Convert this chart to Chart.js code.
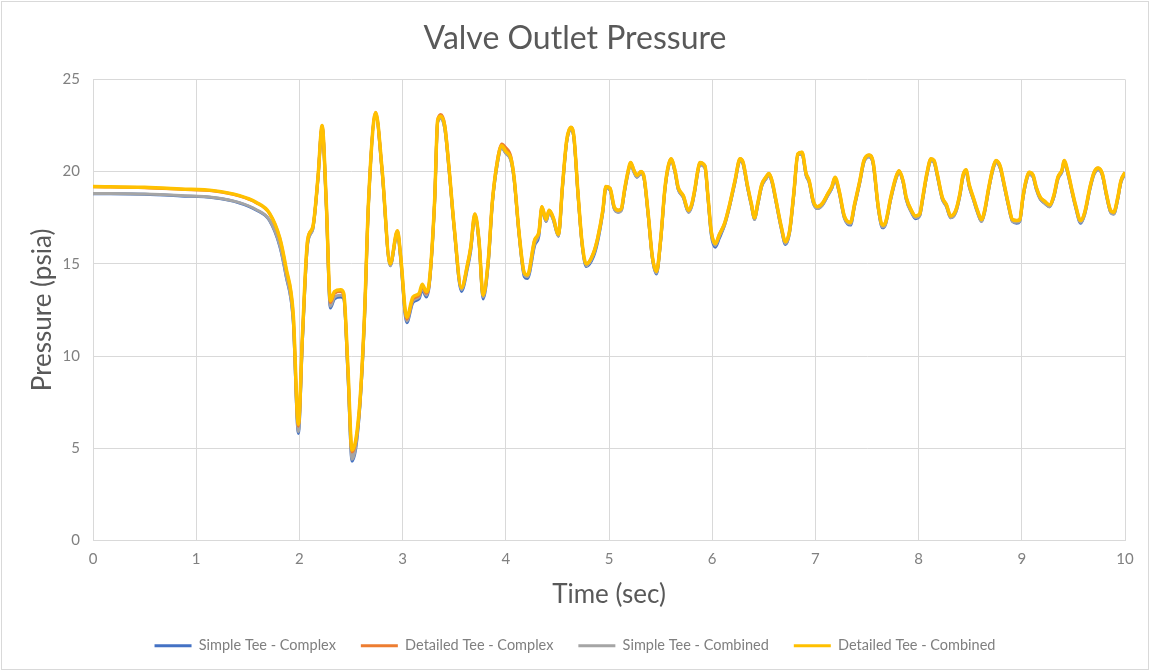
<!DOCTYPE html>
<html>
<head>
<meta charset="utf-8">
<title>Valve Outlet Pressure</title>
<script src="https://cdn.jsdelivr.net/npm/chart.js@4.4.1/dist/chart.umd.min.js"></script>
<style>
  html, body { margin: 0; padding: 0; background: #fff; }
  canvas { display: block; }
</style>
</head>
<body>
<canvas id="chart" width="1150" height="671"></canvas>
<script>
// time (sec), one row per second of the trace
const timeSec = [
  0, 0.5, 0.85, 1.17, 1.42, 1.58, 1.71, 1.81, 1.87, 1.94,
  1.99, 2.03, 2.08, 2.13, 2.18, 2.22, 2.26, 2.30, 2.34, 2.40, 2.43, 2.47, 2.51, 2.58, 2.63, 2.67, 2.74, 2.80, 2.88, 2.95, 2.98,
  3.04, 3.10, 3.16, 3.19, 3.23, 3.26, 3.31, 3.34, 3.37, 3.41, 3.45, 3.50, 3.57, 3.63, 3.66, 3.70, 3.74, 3.78, 3.83, 3.87, 3.92, 3.96,
  4.00, 4.05, 4.08, 4.13, 4.18, 4.21, 4.28, 4.32, 4.35, 4.39, 4.42, 4.46, 4.51, 4.55, 4.59, 4.63, 4.66, 4.70, 4.74, 4.78, 4.85, 4.89, 4.94, 4.97,
  5.01, 5.05, 5.09, 5.12, 5.15, 5.18, 5.21, 5.24, 5.27, 5.31, 5.34, 5.38, 5.42, 5.46, 5.50, 5.54, 5.57, 5.60, 5.64, 5.67, 5.72, 5.77, 5.80, 5.83, 5.86, 5.88, 5.93, 5.96, 5.99,
  6.03, 6.07, 6.12, 6.17, 6.22, 6.27, 6.30, 6.34, 6.38, 6.41, 6.44, 6.48, 6.52, 6.55, 6.58, 6.62, 6.67, 6.71, 6.75, 6.79, 6.83, 6.87, 6.91, 6.94, 6.98,
  7.02, 7.07, 7.12, 7.16, 7.19, 7.23, 7.28, 7.34, 7.38, 7.43, 7.47, 7.52, 7.56, 7.61, 7.65, 7.68, 7.73, 7.78, 7.81, 7.85, 7.88, 7.93, 7.97,
  8.01, 8.04, 8.08, 8.12, 8.15, 8.18, 8.23, 8.27, 8.31, 8.36, 8.40, 8.43, 8.46, 8.49, 8.53, 8.57, 8.61, 8.64, 8.68, 8.72, 8.75, 8.79, 8.83, 8.87, 8.91, 8.95, 8.98,
  9.01, 9.04, 9.07, 9.11, 9.14, 9.18, 9.22, 9.27, 9.31, 9.35, 9.39, 9.41, 9.45, 9.48, 9.52, 9.57, 9.61, 9.66, 9.70, 9.74, 9.78, 9.82, 9.86, 9.89, 9.93, 9.96, 10.0
];

const simpleTeeComplex = [
  18.8, 18.77, 18.68, 18.58, 18.3, 17.92, 17.35, 15.95, 14.35, 11.9,
  5.8, 10.9, 16.1, 16.9, 19.6, 22.4, 18.2, 12.6, 13.1, 13.2, 13.1, 9.0, 4.3, 6.8, 11.9, 18.3, 23.1, 20.1, 14.9, 16.7, 15.3,
  11.8, 12.9, 13.1, 13.6, 13.2, 13.9, 18.3, 22.7, 22.9, 22.3, 20.1, 16.9, 13.5, 14.8, 15.7, 17.6, 16.2, 13.1, 15.0, 18.3, 20.5, 21.3,
  21.0, 20.6, 19.6, 16.5, 14.3, 14.2, 16.0, 16.5, 18.0, 17.3, 17.8, 17.4, 16.5, 19.2, 21.6, 22.3, 21.8, 18.7, 16.0, 14.85, 15.4, 16.2, 17.8, 19.1,
  19.0, 18.0, 17.8, 17.9, 18.9, 19.8, 20.4, 20.0, 19.7, 19.9, 19.6, 17.6, 15.3, 14.45, 16.2, 18.9, 20.1, 20.6, 19.95, 19.05, 18.6, 17.8, 18.1, 18.9, 19.95, 20.4, 20.2, 18.5, 16.6,
  15.9, 16.4, 17.1, 18.15, 19.4, 20.6, 20.4, 19.2, 18.15, 17.4, 18.15, 19.2, 19.6, 19.8, 19.4, 18.3, 16.9, 16.05, 16.7, 18.7, 20.9, 20.95, 19.8, 19.4, 18.3,
  18.0, 18.2, 18.7, 19.1, 19.6, 18.87, 17.5, 17.1, 18.15, 19.4, 20.5, 20.8, 20.4, 17.97, 16.95, 17.15, 18.5, 19.6, 19.95, 19.4, 18.5, 17.8, 17.45,
  17.6, 18.5, 19.8, 20.6, 20.5, 19.8, 18.5, 18.1, 17.5, 17.8, 18.7, 19.7, 20.0, 19.2, 18.5, 17.8, 17.3, 17.8, 19.05, 20.1, 20.5, 20.2, 19.2, 18.15, 17.3, 17.2, 17.3,
  18.5, 19.4, 19.86, 19.7, 19.05, 18.5, 18.3, 18.1, 18.6, 19.6, 20.0, 20.5, 19.8, 19.05, 18.1, 17.2, 17.7, 19.05, 19.86, 20.1, 19.8, 18.7, 17.8, 17.7, 18.5, 19.4, 19.86
];

const detailedTeeComplex = [
  19.18, 19.13, 19.04, 18.95, 18.68, 18.32, 17.73, 16.38, 14.75, 12.25,
  6.2, 11.1, 16.3, 17.0, 19.7, 22.5, 18.4, 12.9, 13.4, 13.5, 13.3, 9.3, 4.8, 7.0, 12.1, 18.4, 23.2, 20.2, 15.0, 16.8, 15.5,
  12.0, 13.1, 13.3, 13.8, 13.4, 14.0, 18.4, 22.8, 23.1, 22.5, 20.2, 17.0, 13.7, 15.0, 15.9, 17.7, 16.3, 13.3, 15.2, 18.4, 20.7, 21.5,
  21.3, 20.8, 19.7, 16.6, 14.5, 14.4, 16.3, 16.7, 18.1, 17.4, 17.9, 17.5, 16.6, 19.3, 21.7, 22.4, 21.9, 18.8, 16.1, 15.0, 15.6, 16.4, 17.9, 19.2,
  19.1, 18.1, 17.9, 18.0, 19.0, 19.9, 20.5, 20.1, 19.8, 20.0, 19.7, 17.7, 15.4, 14.6, 16.3, 19.0, 20.2, 20.7, 20.05, 19.15, 18.7, 17.9, 18.2, 19.0, 20.05, 20.5, 20.3, 18.6, 16.8,
  16.1, 16.6, 17.2, 18.25, 19.5, 20.7, 20.5, 19.3, 18.25, 17.5, 18.25, 19.3, 19.7, 19.9, 19.5, 18.4, 17.0, 16.2, 16.8, 18.8, 20.96, 21.05, 19.9, 19.5, 18.4,
  18.1, 18.3, 18.8, 19.2, 19.7, 18.97, 17.6, 17.25, 18.25, 19.5, 20.6, 20.9, 20.5, 18.07, 17.1, 17.25, 18.6, 19.7, 20.05, 19.5, 18.6, 17.9, 17.6,
  17.7, 18.6, 19.9, 20.7, 20.6, 19.9, 18.6, 18.2, 17.6, 17.9, 18.8, 19.8, 20.1, 19.3, 18.6, 17.9, 17.4, 17.9, 19.15, 20.2, 20.6, 20.3, 19.3, 18.25, 17.4, 17.35, 17.4,
  18.6, 19.5, 19.96, 19.8, 19.15, 18.6, 18.4, 18.2, 18.7, 19.7, 20.1, 20.6, 19.9, 19.15, 18.2, 17.35, 17.8, 19.15, 19.96, 20.2, 19.9, 18.8, 17.9, 17.8, 18.6, 19.5, 19.96
];

const simpleTeeCombined = [
  18.82, 18.78, 18.7, 18.6, 18.32, 17.95, 17.38, 16.0, 14.4, 11.95,
  5.9, 11.0, 16.1, 16.9, 19.6, 22.4, 18.3, 12.7, 13.2, 13.3, 13.2, 9.1, 4.4, 6.9, 11.9, 18.3, 23.1, 20.1, 14.9, 16.7, 15.4,
  11.9, 13.0, 13.2, 13.7, 13.3, 14.0, 18.3, 22.7, 22.9, 22.3, 20.1, 16.9, 13.6, 14.9, 15.8, 17.6, 16.2, 13.2, 15.1, 18.3, 20.5, 21.3,
  21.0, 20.6, 19.6, 16.5, 14.4, 14.3, 16.1, 16.6, 18.0, 17.3, 17.8, 17.4, 16.5, 19.2, 21.6, 22.3, 21.8, 18.7, 16.0, 14.9, 15.5, 16.3, 17.8, 19.1,
  19.0, 18.0, 17.8, 17.9, 18.9, 19.8, 20.4, 20.0, 19.7, 19.9, 19.6, 17.6, 15.3, 14.5, 16.2, 18.9, 20.1, 20.6, 19.95, 19.05, 18.6, 17.8, 18.1, 18.9, 19.95, 20.4, 20.2, 18.5, 16.7,
  16.0, 16.5, 17.1, 18.15, 19.4, 20.6, 20.4, 19.2, 18.15, 17.4, 18.15, 19.2, 19.6, 19.8, 19.4, 18.3, 16.9, 16.1, 16.7, 18.7, 20.9, 20.95, 19.8, 19.4, 18.3,
  18.0, 18.2, 18.7, 19.1, 19.6, 18.87, 17.5, 17.15, 18.15, 19.4, 20.5, 20.8, 20.4, 17.97, 17.0, 17.15, 18.5, 19.6, 19.95, 19.4, 18.5, 17.8, 17.5,
  17.6, 18.5, 19.8, 20.6, 20.5, 19.8, 18.5, 18.1, 17.5, 17.8, 18.7, 19.7, 20.0, 19.2, 18.5, 17.8, 17.3, 17.8, 19.05, 20.1, 20.5, 20.2, 19.2, 18.15, 17.3, 17.25, 17.3,
  18.5, 19.4, 19.86, 19.7, 19.05, 18.5, 18.3, 18.1, 18.6, 19.6, 20.0, 20.5, 19.8, 19.05, 18.1, 17.25, 17.7, 19.05, 19.86, 20.1, 19.8, 18.7, 17.8, 17.7, 18.5, 19.4, 19.86
];

const detailedTeeCombined = [
  19.2, 19.15, 19.06, 18.97, 18.7, 18.34, 17.75, 16.4, 14.8, 12.3,
  6.3, 11.2, 16.3, 17.0, 19.7, 22.5, 18.4, 13.0, 13.5, 13.6, 13.4, 9.4, 4.9, 7.1, 12.1, 18.4, 23.2, 20.2, 15.0, 16.8, 15.5,
  12.1, 13.2, 13.4, 13.9, 13.5, 14.1, 18.4, 22.8, 23.0, 22.4, 20.2, 17.0, 13.7, 15.0, 15.9, 17.7, 16.3, 13.3, 15.2, 18.4, 20.6, 21.4,
  21.1, 20.7, 19.7, 16.6, 14.5, 14.4, 16.3, 16.7, 18.1, 17.4, 17.9, 17.5, 16.6, 19.3, 21.7, 22.4, 21.9, 18.8, 16.1, 15.0, 15.6, 16.4, 17.9, 19.2,
  19.1, 18.1, 17.9, 18.0, 19.0, 19.9, 20.5, 20.1, 19.8, 20.0, 19.7, 17.7, 15.4, 14.6, 16.3, 19.0, 20.2, 20.7, 20.05, 19.15, 18.7, 17.9, 18.2, 19.0, 20.05, 20.5, 20.3, 18.6, 16.8,
  16.1, 16.6, 17.2, 18.25, 19.5, 20.7, 20.5, 19.3, 18.25, 17.5, 18.25, 19.3, 19.7, 19.9, 19.5, 18.4, 17.0, 16.2, 16.8, 18.8, 20.96, 21.05, 19.9, 19.5, 18.4,
  18.1, 18.3, 18.8, 19.2, 19.7, 18.97, 17.6, 17.25, 18.25, 19.5, 20.6, 20.9, 20.5, 18.07, 17.1, 17.25, 18.6, 19.7, 20.05, 19.5, 18.6, 17.9, 17.6,
  17.7, 18.6, 19.9, 20.7, 20.6, 19.9, 18.6, 18.2, 17.6, 17.9, 18.8, 19.8, 20.1, 19.3, 18.6, 17.9, 17.4, 17.9, 19.15, 20.2, 20.6, 20.3, 19.3, 18.25, 17.4, 17.35, 17.4,
  18.6, 19.5, 19.96, 19.8, 19.15, 18.6, 18.4, 18.2, 18.7, 19.7, 20.1, 20.6, 19.9, 19.15, 18.2, 17.35, 17.8, 19.15, 19.96, 20.2, 19.9, 18.8, 17.9, 17.8, 18.6, 19.5, 19.96
];

const seriesNames = ['Simple Tee - Complex', 'Detailed Tee - Complex', 'Simple Tee - Combined', 'Detailed Tee - Combined'];
const seriesValues = [simpleTeeComplex, detailedTeeComplex, simpleTeeCombined, detailedTeeCombined];
const seriesColors = ['#4472C4', '#ED7D31', '#A5A5A5', '#FFC000'];
const lineWidths = [3, 3, 3, 3.5];
const drawOrder = [3, 1, 2, 0]; // yellow on top, then orange, gray, blue

const xTicks = [0, 1, 2, 3, 4, 5, 6, 7, 8, 9, 10];
const yTicks = [0, 5, 10, 15, 20, 25];

Chart.defaults.font.family = 'Lato, "Open Sans", sans-serif';

const frame = {
    id: 'frame',
    beforeDraw(chart) {
        const c = chart.ctx;
        c.save();
        c.fillStyle = '#fff';
        c.fillRect(0, 0, chart.width, chart.height);
        c.strokeStyle = '#d9d9d9';
        c.lineWidth = 1;
        c.strokeRect(1.5, 1.5, chart.width - 3, chart.height - 3);
        c.restore();
    }
};

const datasets = seriesNames.map((name, i) => ({
    label: name,
    data: timeSec.map((t, j) => ({ x: t, y: seriesValues[i][j] })),
    borderColor: seriesColors[i],
    backgroundColor: seriesColors[i],
    borderWidth: lineWidths[i],
    pointRadius: 0,
    cubicInterpolationMode: 'monotone',
    order: drawOrder[i]
}));

new Chart(document.getElementById('chart'), {
    type: 'line',
    data: { datasets },
    options: {
        responsive: false,
        animation: false,
        devicePixelRatio: 1,
        layout: { padding: { left: 0, right: 0, top: 0, bottom: 8 } },
        plugins: {
            title: {
                display: true,
                text: 'Valve Outlet Pressure',
                color: '#595959',
                font: { size: 32, weight: 'normal' },
                padding: { top: 19, bottom: 22 }
            },
            legend: {
                position: 'bottom',
                labels: {
                    boxWidth: 37,
                    boxHeight: 3,
                    padding: 25,
                    color: '#7f7f7f',
                    font: { size: 14.5 },
                    generateLabels: chart => chart.data.datasets.map((ds, i) => ({
                        text: ds.label,
                        fillStyle: ds.borderColor,
                        strokeStyle: ds.borderColor,
                        lineWidth: 0,
                        fontColor: '#7f7f7f',
                        hidden: !chart.isDatasetVisible(i),
                        datasetIndex: i
                    }))
                }
            },
            tooltip: { enabled: false }
        },
        scales: {
            x: {
                type: 'linear',
                min: 0,
                max: 10,
                afterBuildTicks: s => { s.ticks = xTicks.map(v => ({ value: v })); },
                afterFit: s => { s.height = 73; },
                grid: { color: '#d9d9d9', drawTicks: false },
                border: { color: '#d9d9d9' },
                ticks: { color: '#808080', font: { size: 15 }, padding: 10 },
                title: {
                    display: true,
                    text: 'Time (sec)',
                    color: '#595959',
                    font: { size: 26 },
                    padding: { top: 0, bottom: 3 }
                }
            },
            y: {
                min: 0,
                max: 25,
                afterBuildTicks: s => { s.ticks = yTicks.map(v => ({ value: v })); },
                afterFit: s => { s.width = 93; },
                grid: { color: '#d9d9d9', drawTicks: false },
                border: { color: '#d9d9d9' },
                ticks: { color: '#808080', font: { size: 15 }, padding: 13 },
                title: {
                    display: true,
                    text: 'Pressure (psia)',
                    color: '#595959',
                    font: { size: 26 },
                    padding: { top: 27, bottom: 0 }
                }
            },
            // empty right margin so title and legend centre on the whole canvas
            margin: {
                position: 'right',
                grid: { display: false },
                border: { display: false },
                ticks: { display: false },
                afterFit: s => { s.width = 25; }
            }
        }
    },
    plugins: [frame]
});
</script>
</body>
</html>
